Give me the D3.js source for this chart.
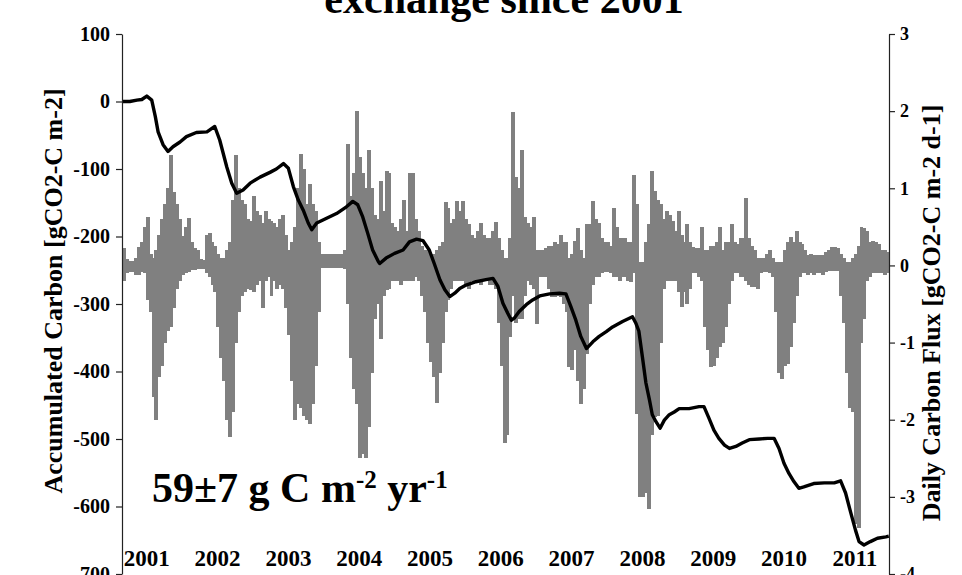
<!DOCTYPE html>
<html>
<head>
<meta charset="utf-8">
<script src="https://cdn.jsdelivr.net/npm/d3@7"></script>
<style>
  body { margin: 0; background: #fff; }
  svg text { font-family: "Liberation Serif", "Times New Roman", serif; font-weight: bold; fill: #000; }
</style>
</head>
<body>
<script>
// daily carbon flux, read per half month as upper / lower extent of the daily bars
var fluxHigh = [
  0.22,0.08,0.06,0.06,0.1,0.24,0.3,0.5,0.63,0.15,0.1,0.2,0.4,0.6,0.8,1.0,1.43,0.95,0.8,0.6,0.38,0.5,0.62,0.3,
  0.22,0.2,0.08,0.07,0.4,0.42,0.3,0.25,0.15,0.1,0.1,0.2,0.3,0.85,1.43,1.0,0.85,0.8,0.6,0.58,0.9,0.7,0.65,0.55,
  0.7,0.6,0.58,0.55,0.5,0.6,0.65,0.4,0.2,0.3,0.5,1.0,1.45,1.25,0.8,1.05,0.8,0.7,0.3,0.15,0.15,0.15,0.15,0.15,
  0.15,0.15,0.15,0.2,1.58,0.9,1.2,2.0,1.4,1.2,1.0,1.5,1.0,0.65,0.6,1.1,0.7,1.23,1.2,0.55,0.5,0.45,0.6,0.85,
  0.45,1.2,1.2,0.6,0.45,0.25,0.2,0.2,0.15,0.15,0.2,0.25,0.3,0.82,0.75,0.55,0.6,0.84,0.7,0.84,0.6,0.54,0.4,0.35,
  0.45,0.55,0.4,0.35,0.35,0.45,0.56,0.35,0.2,0.1,0.1,0.35,1.99,1.15,1.0,1.5,0.63,0.55,0.5,0.63,0.2,0.2,0.2,0.22,
  0.25,0.25,0.3,0.28,0.39,0.3,0.3,0.1,0.15,0.32,0.48,0.2,0.1,0.54,0.54,0.84,0.6,0.55,0.35,0.3,0.3,0.25,0.74,0.5,
  0.35,0.35,0.35,0.3,0.3,1.17,0.8,0.05,0.05,0.3,0.54,1.23,0.97,0.85,0.8,0.6,0.7,0.65,0.58,0.45,0.71,0.4,0.3,0.54,
  0.3,0.24,0.22,0.22,0.5,0.2,0.2,0.25,0.25,0.3,0.5,0.2,0.3,0.3,0.54,0.3,0.28,0.35,0.35,0.87,0.35,0.25,0.2,0.1,
  0.1,0.1,0.15,0.2,0.1,0.05,0.05,0.05,0.2,0.3,0.37,0.3,0.45,0.3,0.28,0.2,0.13,0.15,0.13,0.13,0.13,0.13,0.18,0.2,
  0.24,0.24,0.22,0.15,0.1,0.05,0.05,0.1,0.15,0.25,0.5,0.48,0.45,0.3,0.32,0.3,0.28,0.2,0.2,0.18
];
var fluxLow = [
  -0.2,-0.1,-0.08,-0.09,-0.12,-0.12,-0.08,-0.1,-0.45,-0.6,-1.7,-2.0,-1.45,-1.3,-1.0,-0.85,-0.8,-0.55,-0.3,-0.2,-0.12,-0.1,-0.08,-0.06,
  -0.06,-0.05,-0.04,-0.04,-0.1,-0.15,-0.25,-0.35,-0.8,-1.2,-1.5,-2.0,-2.23,-1.9,-1.0,-0.6,-0.4,-0.35,-0.3,-0.32,-0.35,-0.25,-0.2,-0.55,
  -0.2,-0.15,-0.4,-0.2,-0.3,-0.25,-0.3,-0.55,-0.9,-1.5,-2.0,-1.8,-1.85,-1.95,-2.0,-2.05,-1.8,-1.3,-0.6,-0.03,-0.03,-0.03,-0.03,-0.03,
  -0.03,-0.03,-0.03,-0.05,-0.5,-1.2,-1.6,-1.8,-2.5,-2.45,-2.5,-2.1,-1.4,-0.7,-0.5,-0.95,-0.4,-0.32,-0.3,-0.2,-0.2,-0.2,-0.25,-0.2,
  -0.2,-0.2,-0.2,-0.15,-0.2,-0.4,-0.6,-1.0,-1.25,-1.45,-1.78,-1.4,-1.0,-0.6,-0.45,-0.3,-0.2,-0.2,-0.2,-0.2,-0.25,-0.3,-0.2,-0.2,
  -0.2,-0.25,-0.2,-0.2,-0.25,-0.25,-0.3,-0.75,-1.3,-2.3,-2.2,-0.93,-0.4,-0.75,-0.7,-0.7,-0.4,-0.2,-0.25,-0.3,-0.76,-0.15,-0.15,-0.15,
  -0.3,-0.41,-0.41,-0.4,-0.41,-0.5,-0.6,-1.32,-1.35,-1.1,-1.5,-1.8,-1.6,-1.15,-0.5,-0.25,-0.15,-0.15,-0.1,-0.08,-0.08,-0.1,-0.15,-0.15,
  -0.2,-0.15,-0.15,-0.2,-0.22,-0.1,-1.93,-3.0,-3.0,-2.95,-3.16,-2.2,-1.97,-1.95,-1.0,-0.3,-0.2,-0.2,-0.2,-0.2,-0.35,-0.54,-0.35,-0.5,
  -0.3,-0.1,-0.1,-0.15,-0.2,-0.8,-1.1,-1.32,-1.3,-1.2,-1.06,-1.0,-0.8,-0.5,-0.2,-0.1,-0.1,-0.15,-0.15,-0.2,-0.25,-0.28,-0.28,-0.3,
  -0.1,-0.08,-0.08,-0.1,-0.15,-0.6,-1.4,-1.47,-1.3,-1.28,-1.06,-0.75,-0.4,-0.15,-0.1,-0.1,-0.12,-0.1,-0.12,-0.1,-0.1,-0.12,-0.08,-0.07,
  -0.07,-0.07,-0.07,-0.4,-0.75,-1.4,-1.85,-1.9,-3.35,-3.4,-1.0,-0.7,-0.2,-0.15,-0.1,-0.1,-0.1,-0.1,-0.12,-0.1
];

// accumulated carbon (decimal year, gCO2-C m-2)
var accumYear = [
  2001.00,2001.11,2001.21,2001.28,2001.35,2001.42,2001.47,2001.51,2001.58,2001.65,2001.72,2001.82,2001.91,
  2002.05,2002.20,2002.31,2002.38,2002.48,2002.55,2002.62,2002.71,2002.81,2002.95,
  2003.09,2003.18,2003.28,2003.35,2003.42,2003.49,2003.56,2003.63,2003.68,2003.75,2003.89,
  2004.03,2004.17,2004.26,2004.33,2004.40,2004.47,2004.54,2004.62,2004.64,2004.73,2004.85,2004.97,
  2005.06,2005.16,2005.25,2005.34,2005.41,2005.49,2005.56,2005.63,2005.70,2005.77,2005.86,
  2006.00,2006.14,2006.24,2006.31,2006.38,2006.45,2006.50,2006.54,2006.61,2006.71,2006.80,2006.90,
  2007.04,2007.18,2007.27,2007.34,2007.41,2007.48,2007.56,2007.65,2007.74,2007.84,2007.93,
  2008.07,2008.21,2008.26,2008.30,2008.35,2008.40,2008.45,2008.49,2008.54,2008.60,2008.66,2008.73,2008.80,2008.87,
  2009.01,2009.15,2009.22,2009.29,2009.36,2009.43,2009.51,2009.58,2009.67,2009.76,2009.86,
  2010.00,2010.12,2010.21,2010.28,2010.35,2010.42,2010.49,2010.56,2010.63,2010.77,2010.92,
  2011.06,2011.15,2011.22,2011.29,2011.36,2011.41,2011.48,2011.57,2011.67,2011.79,2011.83
];
var accumValue = [
  0,0,2,3,8,2,-22,-45,-64,-74,-67,-60,-52,
  -46,-45,-37,-57,-97,-121,-136,-131,-121,-112,
  -105,-100,-92,-99,-126,-146,-161,-180,-190,-180,-173,
  -166,-156,-148,-153,-171,-195,-220,-237,-240,-232,-225,-220,
  -208,-204,-206,-220,-240,-264,-279,-289,-284,-277,-272,
  -267,-264,-262,-274,-299,-314,-324,-321,-311,-301,-294,-288,
  -285,-284,-285,-304,-324,-348,-366,-356,-348,-341,-334,
  -326,-319,-329,-340,-378,-417,-442,-464,-474,-484,-472,-464,-460,-455,
  -455,-452,-452,-469,-487,-499,-509,-514,-511,-506,-501,
  -500,-499,-499,-514,-536,-551,-563,-573,-571,-566,-565,
  -565,-562,-580,-608,-635,-652,-657,-652,-647,-645,-644
];

var yearLabels = [2001, 2002, 2003, 2004, 2005, 2006, 2007, 2008, 2009, 2010, 2011];
var leftTicks = [100, 0, -100, -200, -300, -400, -500, -600, -700];
var rightTicks = [3, 2, 1, 0, -1, -2, -3, -4];

var width = 962,
    height = 575,
    step = 1 / 24;

var svg = d3.select("body").append("svg")
  .attr("width", width)
  .attr("height", height);

var x = d3.scaleLinear()
  .domain([2001, 2001 + fluxHigh.length * step])
  .range([122, 889]);

var yLeft = d3.scaleLinear().domain([-700, 100]).range([574, 34]);
var yRight = d3.scaleLinear().domain([-4, 3]).range([574, 34]);

var flux = fluxHigh.map(function(h, i) {
  return { t: 2001 + i * step, hi: h, lo: fluxLow[i] };
});
var accum = accumYear.map(function(t, i) {
  return { t: t, v: accumValue[i] };
});

// title (first line sits above the visible area)
svg.append("text")
  .attr("x", 504)
  .attr("y", 13)
  .attr("text-anchor", "middle")
  .style("font-size", "42px")
  .text("exchange since 2001");

// daily flux bars
svg.append("g")
  .attr("class", "bars")
  .attr("shape-rendering", "crispEdges")
  .selectAll("rect")
  .data(flux)
  .enter().append("rect")
  .attr("x", function(d) { return x(d.t); })
  .attr("width", x(2001 + step) - x(2001) + 1)
  .attr("y", function(d) { return yRight(d.hi); })
  .attr("height", function(d) { return yRight(d.lo) - yRight(d.hi); })
  .style("fill", "#808080");

// accumulated carbon line
var line = d3.line()
  .x(function(d) { return x(d.t); })
  .y(function(d) { return yLeft(d.v); });

svg.append("path")
  .datum(accum)
  .attr("d", line)
  .style("fill", "none")
  .style("stroke", "#000")
  .style("stroke-width", 3.4)
  .style("stroke-linejoin", "round");

// axes
var leftAxis = svg.append("g")
  .attr("transform", "translate(122,0)")
  .call(d3.axisLeft(yLeft)
    .tickValues(leftTicks)
    .tickSize(6)
    .tickSizeOuter(0)
    .tickPadding(6)
    .tickFormat(function(d) { return String(d); }));

var rightAxis = svg.append("g")
  .attr("transform", "translate(889,0)")
  .call(d3.axisRight(yRight)
    .tickValues(rightTicks)
    .tickSize(6)
    .tickSizeOuter(0)
    .tickPadding(5)
    .tickFormat(function(d) { return String(d); }));

leftAxis.attr("font-family", null);
rightAxis.attr("font-family", null);
leftAxis.selectAll("text").style("font-size", "20px");
rightAxis.selectAll("text").style("font-size", "18px");
svg.selectAll(".domain, .tick line").style("stroke", "#222").style("stroke-width", 1.2);

// year labels along the bottom
svg.append("g")
  .selectAll("text")
  .data(yearLabels)
  .enter().append("text")
  .attr("x", function(d) { return x(d + 0.35); })
  .attr("y", 566)
  .attr("text-anchor", "middle")
  .style("font-size", "23px")
  .text(function(d) { return d; });

// axis titles
svg.append("text")
  .attr("transform", "translate(62,291) rotate(-90)")
  .attr("text-anchor", "middle")
  .style("font-size", "26px")
  .text("Accumulated Carbon [gCO2-C m-2]");

svg.append("text")
  .attr("transform", "translate(940,313) rotate(-90)")
  .attr("text-anchor", "middle")
  .style("font-size", "26px")
  .text("Daily Carbon Flux [gCO2-C m-2 d-1]");

// annual uptake annotation
var note = svg.append("text")
  .attr("x", 152)
  .attr("y", 502)
  .style("font-size", "42px");
note.append("tspan").text("59±7 g C m");
note.append("tspan").attr("dy", -14).style("font-size", "25px").text("-2");
note.append("tspan").attr("dy", 14).text(" yr");
note.append("tspan").attr("dy", -14).style("font-size", "25px").text("-1");
</script>
</body>
</html>
